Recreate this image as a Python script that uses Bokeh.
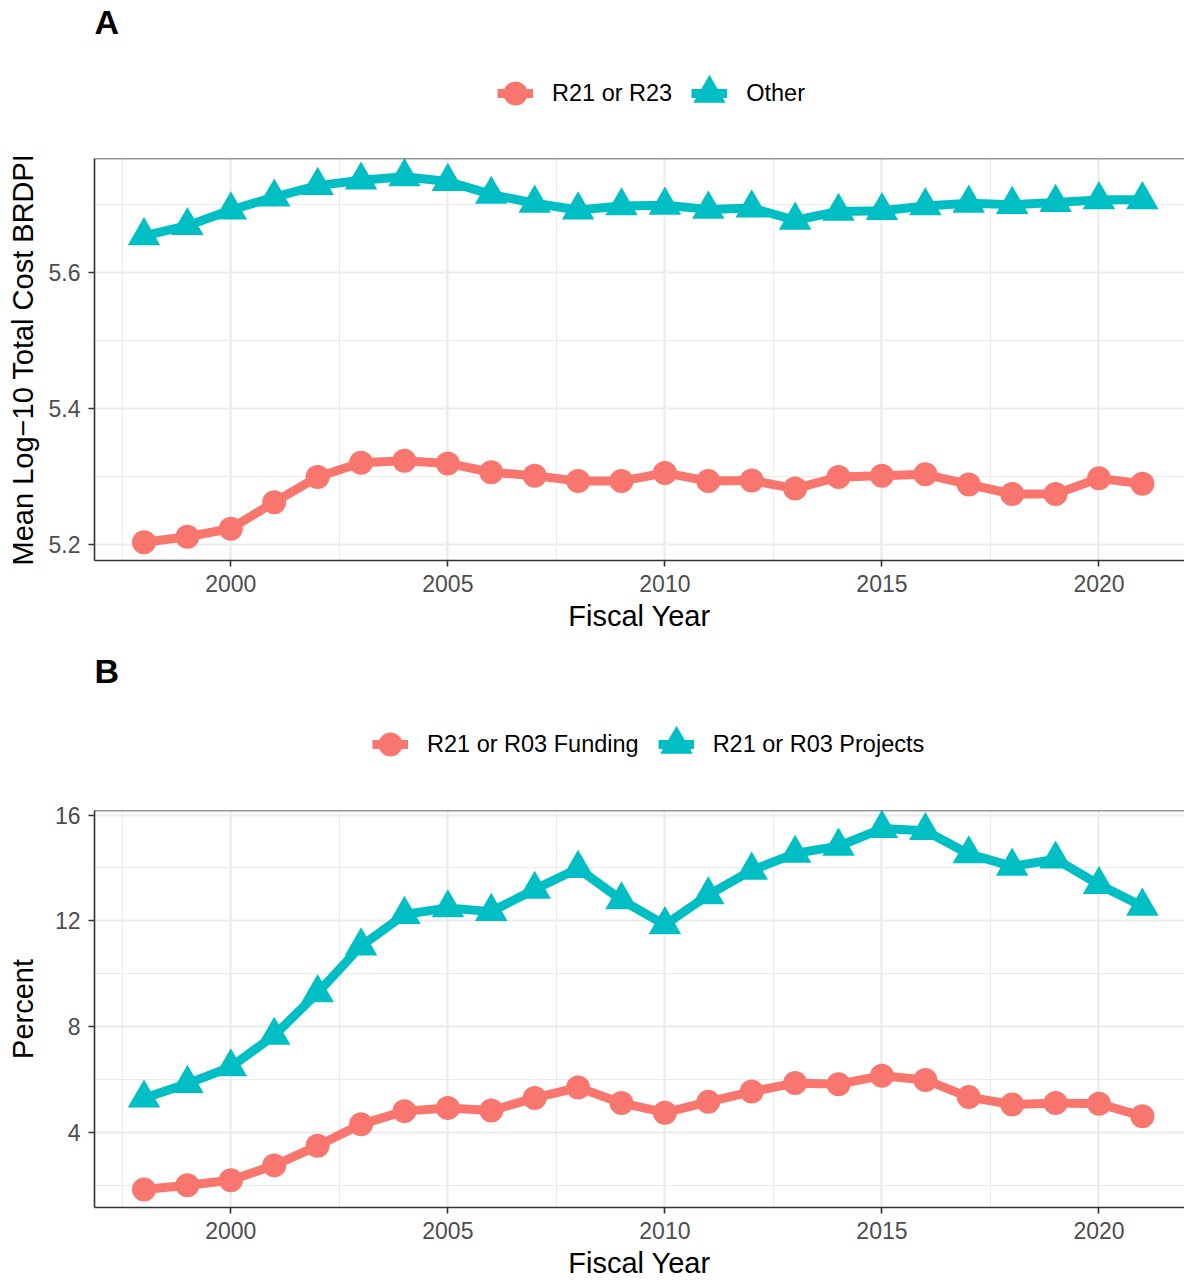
from bokeh.plotting import figure
from bokeh.models import Range1d, FixedTicker, Legend, LegendItem, Span
from bokeh.layouts import column
from bokeh.embed import file_html
from bokeh.resources import INLINE

# ---------------- data ----------------
years = list(range(1998, 2022))

a_r21 = [5.203, 5.211, 5.223, 5.262, 5.299, 5.320, 5.323, 5.319, 5.306, 5.301, 5.293, 5.293,
         5.305, 5.293, 5.294, 5.282, 5.299, 5.301, 5.303, 5.288, 5.274, 5.274, 5.297, 5.289]
a_other = [5.654, 5.669, 5.692, 5.711, 5.728, 5.736, 5.741, 5.734, 5.715, 5.702, 5.692, 5.698,
           5.699, 5.693, 5.695, 5.677, 5.690, 5.691, 5.698, 5.702, 5.700, 5.703, 5.707, 5.707]

b_funding = [1.85, 2.01, 2.20, 2.76, 3.50, 4.31, 4.81, 4.93, 4.83, 5.31, 5.70, 5.12,
             4.75, 5.16, 5.55, 5.87, 5.83, 6.15, 5.99, 5.34, 5.06, 5.12, 5.09, 4.62]
b_projects = [5.30, 5.85, 6.48, 7.67, 9.28, 11.05, 12.24, 12.49, 12.35, 13.19, 13.98, 12.79,
              11.85, 12.98, 13.91, 14.55, 14.82, 15.49, 15.41, 14.53, 14.06, 14.33, 13.37, 12.55]

a_names = ["R21 or R23", "Other"]
b_names = ["R21 or R03 Funding", "R21 or R03 Projects"]

x_ticks = [2000, 2005, 2010, 2015, 2020]
x_minor = [1997.5, 2002.5, 2007.5, 2012.5, 2017.5]
x_tick_labels = ["2000", "2005", "2010", "2015", "2020"]

a_y_ticks = [5.2, 5.4, 5.6]
a_y_minor = [5.3, 5.5, 5.7]
a_y_labels = ["5.2", "5.4", "5.6"]

b_y_ticks = [4, 8, 12, 16]
b_y_minor = [2, 6, 10, 14]
b_y_labels = ["4", "8", "12", "16"]

RED = "#F8766D"
CYAN = "#00BFC4"
FONT = "Liberation Sans"
X_RANGE = (1996.86, 2021.97)


def expand(vals_a, vals_b):
    lo = min(min(vals_a), min(vals_b))
    hi = max(max(vals_a), max(vals_b))
    pad = 0.05 * (hi - lo)
    return lo - pad, hi + pad


def add_series(p, s1, s2, visible=True):
    l1 = p.line(years, s1, line_color=RED, line_width=9, line_join="round", visible=visible)
    l2 = p.line(years, s2, line_color=CYAN, line_width=9, line_join="round", visible=visible)
    if visible:
        p.scatter(years, s1, marker="circle", size=24, fill_color=RED, line_color=None)
        p.scatter(years, s2, marker="triangle", size=32.5, fill_color=CYAN, line_color=None)
    return l1, l2


def make_header(tag, s1, s2, names, height, top, leg_x, leg_y):
    y0, y1 = expand(s1, s2)
    h = figure(width=1184, height=height, output_backend="svg", toolbar_location=None,
               x_range=Range1d(*X_RANGE), y_range=Range1d(y0, y1),
               x_axis_location=None, y_axis_location=None,
               min_border_left=94, min_border_right=0, min_border_top=top,
               min_border_bottom=0)
    h.outline_line_color = None
    h.xgrid.visible = False
    h.ygrid.visible = False
    h.background_fill_color = "white"
    h.border_fill_color = "white"
    h.title.text = tag
    h.title.text_font = FONT
    h.title.text_font_size = "34px"
    h.title.text_font_style = "bold"
    h.title.text_color = "black"
    h.title.align = "left"
    h.title.offset = 0
    h.title.standoff = 0

    # hidden copies of the series: only used to draw the legend keys
    l1, l2 = add_series(h, s1, s2, visible=False)
    d1 = h.scatter(years, s1, marker="circle", size=24, fill_color=RED, line_color=RED,
                   line_width=9.6, visible=False)
    d2 = h.scatter(years, s2, marker="triangle", size=32.5, fill_color=CYAN, line_color=CYAN,
                   line_width=10.4, line_join="miter", visible=False)

    legend = Legend(items=[LegendItem(label=names[0], renderers=[l1, d1]),
                           LegendItem(label=names[1], renderers=[l2, d2])],
                    orientation="horizontal", location=(leg_x, leg_y),
                    glyph_width=36, glyph_height=36, label_standoff=19, spacing=19,
                    padding=0, margin=0, border_line_color=None,
                    background_fill_alpha=0,
                    label_text_font=FONT, label_text_font_size="23.5px",
                    label_text_color="black", label_height=36)
    h.add_layout(legend, "center")
    return h


def make_panel(ylab, s1, s2, yt, ym, ylabels, height, top, bottom, ylab_standoff):
    y0, y1 = expand(s1, s2)
    p = figure(width=1184, height=height, output_backend="svg", toolbar_location=None,
               x_range=Range1d(*X_RANGE), y_range=Range1d(y0, y1),
               min_border_left=94, min_border_right=0, min_border_top=top,
               min_border_bottom=bottom)
    p.outline_line_color = None
    p.background_fill_color = "white"
    p.border_fill_color = "white"

    xt = FixedTicker(ticks=x_ticks, minor_ticks=x_minor)
    ytk = FixedTicker(ticks=yt, minor_ticks=ym)
    p.xaxis.ticker = xt
    p.yaxis.ticker = ytk
    p.xgrid.ticker = xt
    p.ygrid.ticker = ytk
    p.xaxis.major_label_overrides = dict(zip(x_ticks, x_tick_labels))
    p.yaxis.major_label_overrides = dict(zip(yt, ylabels))

    for g in (p.xgrid, p.ygrid):
        g.grid_line_color = "#EBEBEB"
        g.grid_line_width = 2.2
        g.minor_grid_line_color = "#EBEBEB"
        g.minor_grid_line_width = 1.1

    for ax in (p.xaxis, p.yaxis):
        ax.axis_line_color = "#333333"
        ax.axis_line_width = 1.6
        ax.major_tick_line_color = "#333333"
        ax.major_tick_line_width = 1.6
        ax.major_tick_out = 6
        ax.major_tick_in = 0
        ax.minor_tick_line_color = None
        ax.major_label_text_font = FONT
        ax.major_label_text_font_size = "23px"
        ax.major_label_text_color = "#4D4D4D"
        ax.axis_label_text_font = FONT
        ax.axis_label_text_font_size = "29px"
        ax.axis_label_text_font_style = "normal"
        ax.axis_label_text_color = "black"
    p.xaxis.axis_label = "Fiscal Year"
    p.yaxis.axis_label = ylab
    p.xaxis.major_label_standoff = 8
    p.xaxis.axis_label_standoff = 5
    p.yaxis.major_label_standoff = 8
    p.yaxis.axis_label_standoff = ylab_standoff

    # top border of the panel
    p.add_layout(Span(location=y1, dimension="width", line_color="#333333", line_width=1.6))

    add_series(p, s1, s2)
    return p


hA = make_header("A", a_r21, a_other, a_names, height=130, top=32, leg_x=403, leg_y=19)
pA = make_panel("Mean Log\u221210 Total Cost BRDPI", a_r21, a_other,
                a_y_ticks, a_y_minor, a_y_labels, height=510, top=28, bottom=80,
                ylab_standoff=7)
hB = make_header("B", b_funding, b_projects, b_names, height=142, top=49, leg_x=278, leg_y=20)
pB = make_panel("Percent", b_funding, b_projects,
                b_y_ticks, b_y_minor, b_y_labels, height=499, top=28, bottom=71,
                ylab_standoff=13)

layout = column(hA, pA, hB, pB)
open("out.html", "w").write(file_html(layout, INLINE))
